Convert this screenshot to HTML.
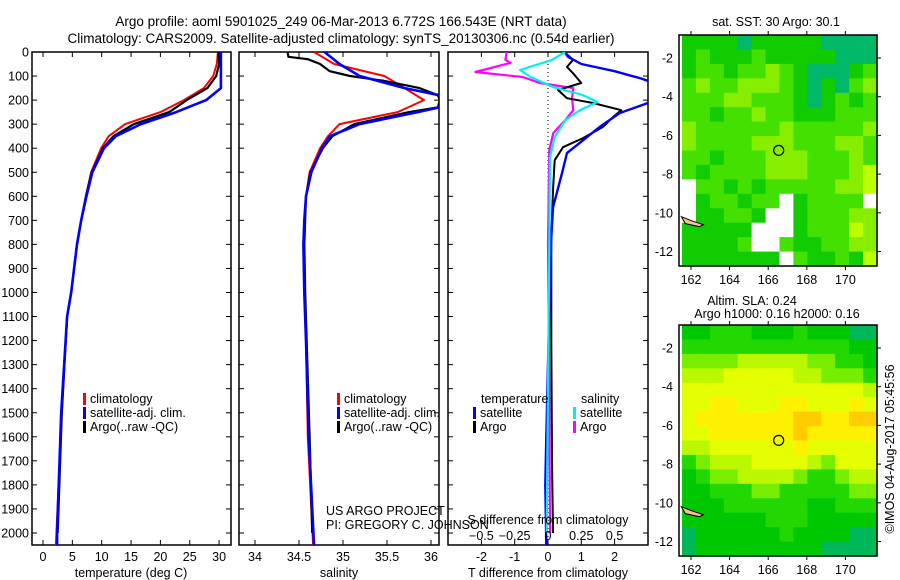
<!DOCTYPE html>
<html><head><meta charset="utf-8"><style>
body{margin:0;background:#fff}
svg{display:block;font-family:"Liberation Sans",sans-serif;font-size:12.5px}
</style></head><body>
<svg id="c" width="900" height="580" viewBox="0 0 900 580">
<text x="341" y="26" text-anchor="middle" font-size="13.5">Argo profile: aoml 5901025_249 06-Mar-2013 6.772S 166.543E (NRT data)</text>
<text x="341" y="43" text-anchor="middle" font-size="13.5">Climatology: CARS2009. Satellite-adjusted climatology: synTS_20130306.nc (0.54d earlier)</text>
</svg>
<script>
// ---------- data ----------
const depthTicks=[0,100,200,300,400,500,600,700,800,900,1000,1100,1200,1300,1400,1500,1600,1700,1800,1900,2000];
const tTickLabels=[0,5,10,15,20,25,30];
const sTickLabels=[34,34.5,35,35.5,36];
const dTTickLabels=[-2,-1,0,1,2];
const dSTickLabels=[-0.5,-0.25,0,0.25,0.5];
const tClimDepth=[0,50,100,150,200,250,300,350,400,500,600,700,800,900,1000,1100,1500,2050];
const tClimVal=[29.8,29.6,29,27.4,24,20,14,11.2,9.9,8.2,7.3,6.5,5.8,5.3,4.8,4.1,3.2,2.2];
const tSatDepth=[0,50,100,150,200,250,300,350,400,500,600,700,800,900,1000,1100,1500,2000,2050];
const tSatVal=[30.3,30.3,30.3,30.3,27.8,22.7,16.7,12.4,10.4,8.4,7.4,6.5,5.8,5.3,4.8,4.1,3.1,2.4,2.4];
const tArgoDepth=[0,50,100,150,200,250,300,350,400,500,600,700,800,900,1000,1100,1500,2000];
const tArgoVal=[29.9,30,29.5,28,24.5,21.5,15.5,12,10.2,8.3,7.3,6.5,5.8,5.3,4.8,4.1,3.2,2.5];
const sClimDepth=[0,50,100,150,200,250,300,350,400,500,600,700,800,1000,1200,1600,2050];
const sClimVal=[34.67,34.9,35.47,35.7,35.92,35.62,34.96,34.83,34.74,34.62,34.58,34.56,34.55,34.56,34.58,34.6,34.66];
const sSatDepth=[0,50,100,150,180,200,230,250,300,350,400,500,600,700,800,1000,1200,1600,2050];
const sSatVal=[34.79,34.96,35.19,35.7,36.1,36.3,36.1,35.85,35.19,34.85,34.76,34.64,34.58,34.56,34.55,34.56,34.58,34.61,34.67];
const sArgoDepth=[0,20,30,50,80,100,120,150,180,200,230,250,300,350,400,500,600,800,1000,1600,2000];
const sArgoVal=[34.37,34.38,34.6,34.74,34.85,35.08,35.47,35.87,36.08,36.1,36.08,35.75,35.13,34.88,34.77,34.63,34.58,34.56,34.57,34.62,34.65];
const dTSatDepth=[0,20,50,80,110,130,150,200,212,254,312,367,420,504,646,771,1000,1300,1600,1800,2050];
const dTSatVal=[0.5,0.6,1.0,2.0,2.8,3.2,4,3.5,3.0,2.15,1.55,1.05,0.57,0.42,0.15,0.1,0.05,0,-0.05,-0.08,-0.05];
const dTArgoDepth=[0,33,62,88,129,158,192,212,242,271,312,358,396,450,575,771,1200,1700,2000];
const dTArgoVal=[0.5,0.75,0.57,0.75,1.0,0.3,0.57,1.35,2.2,1.95,1.65,1.05,0.45,0.2,0.15,0.1,0.1,0.12,0.15];
const dSSatDepth=[0,33,75,104,146,179,208,242,283,354,437,800,1400,2000];
const dSSatVal=[0.127,0.03,-0.21,-0.13,0.04,0.26,0.37,0.24,0.13,0.05,0.015,0.01,0.0,-0.01];
const dSArgoDepth=[0,33,45,83,104,129,150,192,242,283,337,408,800,1400,2000];
const dSArgoVal=[-0.31,-0.32,-0.28,-0.545,-0.19,-0.06,0.19,0.18,0.19,0.13,0.04,0.01,0.0,0.01,0.015];
const sstRows=["ggggtgggggtttt","gGgggGgggggttt","gGGgGGyGgtttgG","GyGGyyyGgtgtGy","GGGyyGGGgtgGgG","GGgGGyGGgggGGG","yGGGGGGyGGGGGy","yGGGGyyyGGGyyG","GGgGGGyyyGGGyG","GgGGGGyyyGGGyY","wGGgGgGGGGGyyY","wgGGgGGwgGGGGw","wggGGgwwgGGGyy","gggggwwwgGGGYy","ggggGwwGggGGyy","gggggggwGggGgY"];
const slaRows=["ggGGGgggGgggtt","GGGGGGGGGGGGgg","llllLLLLLllGGg","LLLyyyyyLLlllG","yyyyyyyyyyyyyL","yyYYyyyYYyyyYy","yYYYYYYYOOYYOO","yyYYYYYYOYYYYY","LLyyyyyyYyyyyy","GlLLLyyyyLlyyy","gGllLLLLlGGlLL","ggGGGllGGGGGll","gggGGGGGGggGGG","ggggggGGGggggg","tggggggGggggtt","tgggggggggtttt"];
const lonTicks=[162,164,166,168,170];
const latTicks=[-2,-4,-6,-8,-10,-12];
const argoLon=166.543, argoLat=-6.772;

// ---------- helpers ----------
const NS="http://www.w3.org/2000/svg";
const svg=document.getElementById('c');
function mk(tag,attrs,parent,text){const e=document.createElementNS(NS,tag);for(const k in attrs)e.setAttribute(k,attrs[k]);if(text!==undefined)e.textContent=text;(parent||svg).appendChild(e);return e;}
const PT=52,PB=545,D0=52,DPX=0.2405;
const yD=d=>D0+d*DPX;
function panel(name,x0,x1){
  const g=mk('g',{});
  
  
  const r=mk('rect',{x:x0,y:PT,width:x1-x0,height:PB-PT,fill:'none',stroke:'#000','stroke-width':1.5},g);
  
  
  depthTicks.forEach(d=>{mk('line',{x1:x0,x2:x0+5,y1:yD(d),y2:yD(d),stroke:'#000'},g);mk('line',{x1:x1,x2:x1-5,y1:yD(d),y2:yD(d),stroke:'#000'},g);});
  return g;
}
function line(g,name,xf,dep,val,color,w){
  const pts=dep.map((d,i)=>xf(val[i]).toFixed(1)+','+yD(d).toFixed(1)).join(' ');
  const p=mk('polyline',{points:pts,fill:'none',stroke:color,'stroke-width':w,'stroke-linejoin':'round'},g);
  
  
}
function txt(s,x,y,anchor,name,g,extra){
  const t=mk('text',Object.assign({x:x,y:y,'text-anchor':anchor||'start'},extra||{}),g,s);
  
  
  return t;
}
function legend(g,x,y,color,label,name){
  mk('rect',{x:x,y:y-10,width:3,height:12,fill:color},g);
  txt(label,x+7,y,'start',name,g);
}

// ---------- depth labels ----------
depthTicks.forEach(d=>{txt(String(d),29,yD(d)+4.5,'end','depth-label-'+d);});

// ---------- panel 1 temperature ----------
const xT=v=>43+v*5.87;
const g1=panel('temperature-panel',32,231);
const cp1=mk('clipPath',{id:'cp1'});mk('rect',{x:32,y:PT,width:199,height:PB-PT},cp1);
const l1=mk('g',{'clip-path':'url(#cp1)'},g1);
line(l1,'temperature-climatology-line',xT,tClimDepth,tClimVal,'#f00',2);
line(l1,'temperature-argo-line',xT,tArgoDepth,tArgoVal,'#000',2.2);
line(l1,'temperature-satellite-line',xT,tSatDepth,tSatVal,'#00f',2.6);
tTickLabels.forEach(v=>{mk('line',{x1:xT(v),x2:xT(v),y1:PT,y2:PT+5,stroke:'#000'},g1);mk('line',{x1:xT(v),x2:xT(v),y1:PB,y2:PB-5,stroke:'#000'},g1);txt(String(v),xT(v),561,'middle','temperature-tick-'+v,g1);});
txt('temperature (deg C)',131,577,'middle','temperature-axis-title',g1);
legend(g1,83,403,'#f00','climatology','legend-climatology');
legend(g1,83,417,'#00f','satellite-adj. clim.','legend-satellite');
legend(g1,83,431,'#000','Argo(..raw -QC)','legend-argo');

// ---------- panel 2 salinity ----------
const xS=v=>255+(v-34)*88;
const g2=panel('salinity-panel',239,439);
const cp2=mk('clipPath',{id:'cp2'});mk('rect',{x:239,y:PT,width:200,height:PB-PT},cp2);
const l2=mk('g',{'clip-path':'url(#cp2)'},g2);
line(l2,'salinity-climatology-line',xS,sClimDepth,sClimVal,'#f00',2);
line(l2,'salinity-argo-line',xS,sArgoDepth,sArgoVal,'#000',2.2);
line(l2,'salinity-satellite-line',xS,sSatDepth,sSatVal,'#00f',2.6);
sTickLabels.forEach(v=>{mk('line',{x1:xS(v),x2:xS(v),y1:PT,y2:PT+5,stroke:'#000'},g2);mk('line',{x1:xS(v),x2:xS(v),y1:PB,y2:PB-5,stroke:'#000'},g2);txt(String(v),xS(v),561,'middle','salinity-tick-'+v,g2);});
txt('salinity',339,577,'middle','salinity-axis-title',g2);
legend(g2,337,403,'#f00','climatology','legend-climatology-2');
legend(g2,337,417,'#00f','satellite-adj. clim.','legend-satellite-2');
legend(g2,337,431,'#000','Argo(..raw -QC)','legend-argo-2');
txt('US ARGO PROJECT',326,515,'start','project-label',g2);
txt('PI: GREGORY C. JOHNSON',326,529,'start','pi-label',g2);

// ---------- panel 3 differences ----------
const xDT=v=>548+v*33.3;
const xDS=v=>548+v*133.2;
const g3=panel('difference-panel',448,648);
mk('line',{x1:548,x2:548,y1:PT,y2:PB,stroke:'#000','stroke-dasharray':'1,3'},g3);
const cp3=mk('clipPath',{id:'cp3'});mk('rect',{x:448,y:PT,width:200,height:PB-PT},cp3);
const l3=mk('g',{'clip-path':'url(#cp3)'},g3);
line(l3,'s-diff-argo-line',xDS,dSArgoDepth,dSArgoVal,'#f0f',2.2);
line(l3,'t-diff-argo-line',xDT,dTArgoDepth,dTArgoVal,'#000',2);
line(l3,'t-diff-satellite-line',xDT,dTSatDepth,dTSatVal,'#00f',2.4);
line(l3,'s-diff-satellite-line',xDS,dSSatDepth,dSSatVal,'#0ee',2.2);
dTTickLabels.forEach(v=>{mk('line',{x1:xDT(v),x2:xDT(v),y1:PB,y2:PB-5,stroke:'#000'},g3);txt(String(v),xDT(v),561,'middle','t-diff-tick-'+v,g3);});
dSTickLabels.forEach(v=>{mk('line',{x1:xDS(v),x2:xDS(v),y1:PT,y2:PT+5,stroke:'#000'},g3);txt(String(v).replace('-','\u2212'),xDS(v),540,'middle','s-diff-tick-'+v,g3);});
txt('S difference from climatology',548,524,'middle','s-diff-axis-title',g3);
txt('T difference from climatology',548,577,'middle','t-diff-axis-title',g3);
txt('temperature',481,403,'start','legend-temperature-header',g3);
txt('salinity',581,403,'start','legend-salinity-header',g3);
legend(g3,473,417,'#00f','satellite','legend-t-satellite');
legend(g3,473,431,'#000','Argo','legend-t-argo');
legend(g3,573,417,'#0ee','satellite','legend-s-satellite');
legend(g3,573,431,'#f0f','Argo','legend-s-argo');

// ---------- maps ----------
const sstCol={t:'#00b868',g:'#11cc00',G:'#44e000',y:'#88ee00',Y:'#bbff00',w:'#ffffff'};
const slaCol={t:'#00b85a',g:'#00c800',G:'#22d800',l:'#77ee00',L:'#bbf800',y:'#e4ff00',Y:'#fff000',O:'#ffcc00'};
function map(name,top,rows,cols,title){
  const X0=679,X1=877,H=231;
  const g=mk('g',{});
  
  
  const nr=rows.length,nc=rows[0].length,cw=(X1-X0-3)/nc,ch=H/nr;
  rows.forEach((row,r)=>{[...row].forEach((c,k)=>{
    const cell=mk('rect',{x:(X0+3+k*cw).toFixed(1),y:(top+r*ch).toFixed(1),width:(cw+0.6).toFixed(1),height:(ch+0.6).toFixed(1),fill:cols[c]},g);
    
    
  });});
  const lx=v=>691+(v-162)*19.3, ly=v=>top+23+(-2-v)*19.35;
  mk('path',{d:`M${lx(161.5)},${ly(-10.2)} l10,4 l12,4 l-4,2 l-14,-3 z`,fill:'#f8c090',stroke:'#000'},g);
  const f=mk('rect',{x:X0,y:top,width:X1-X0,height:H,fill:'none',stroke:'#000','stroke-width':1.5},g);
  
  
  lonTicks.forEach(v=>{mk('line',{x1:lx(v),x2:lx(v),y1:top,y2:top-4,stroke:'#000'},g);mk('line',{x1:lx(v),x2:lx(v),y1:top+H,y2:top+H+4,stroke:'#000'},g);txt(String(v),lx(v),top+H+18,'middle',name+'-lon-'+v,g);});
  latTicks.forEach(v=>{mk('line',{x1:X1,x2:X1+4,y1:ly(v),y2:ly(v),stroke:'#000'},g);txt(String(v),673,ly(v)+4.5,'end',name+'-lat-'+v,g);});
  const c=mk('circle',{cx:lx(argoLon),cy:ly(argoLat),r:5,fill:'none',stroke:'#000','stroke-width':1.2},g);
  
  
  return g;
}
const m1=map('sst-map',35,sstRows,sstCol);
txt('sat. SST: 30 Argo: 30.1',776,26,'middle','sst-map-title',m1);
const m2=map('sla-map',325,slaRows,slaCol);
txt('Altim. SLA: 0.24',752,305,'middle','sla-map-title',m2);
txt('Argo h1000: 0.16 h2000: 0.16',777,318,'middle','sla-map-subtitle',m2);
txt('\u00a9IMOS 04-Aug-2017 05:45:56',0,0,'middle','timestamp-label',null,{transform:'translate(894,449) rotate(-90)'});
</script>
</body></html>
